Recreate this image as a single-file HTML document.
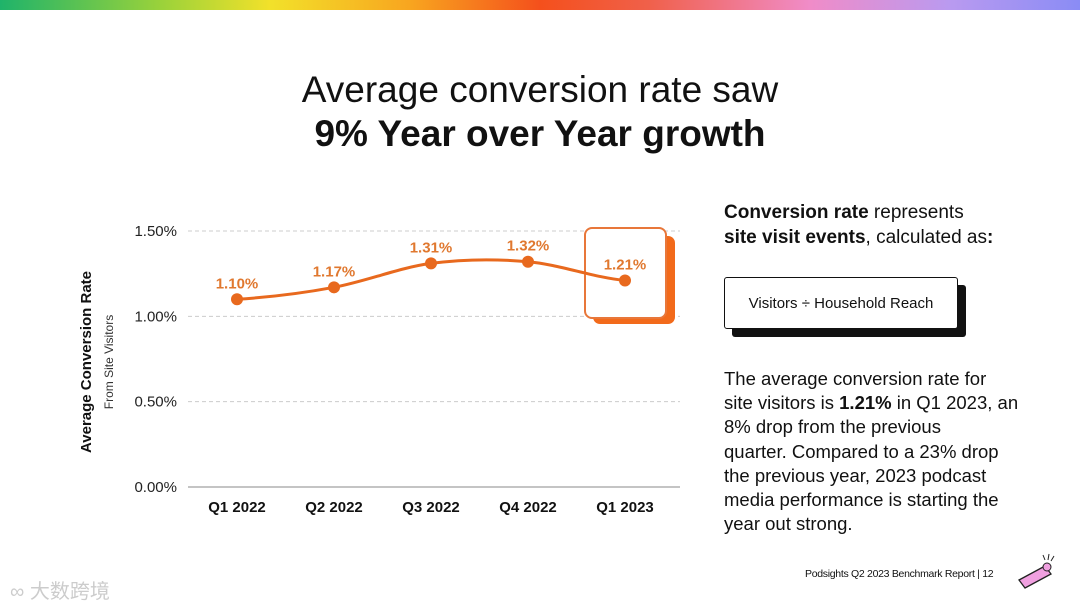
<!DOCTYPE html>
<html><head><meta charset="utf-8"><style>
body{margin:0;width:1080px;height:608px;background:#fff;font-family:"Liberation Sans","Noto Sans CJK SC",sans-serif;position:relative;overflow:hidden;color:#111}
.abs{position:absolute}
</style></head><body>
<div class="abs" style="left:0;top:0;width:1080px;height:10px;background:linear-gradient(90deg,#1fb36a 0%,#9bd23a 15%,#f2e12a 25%,#f8a51f 38%,#f4501c 50%,#f0604a 60%,#f08cc8 75%,#b99af0 88%,#8a8cf5 100%)"></div>
<div class="abs" style="left:0;top:68px;width:1080px;text-align:center;font-size:37px;line-height:44px">Average conversion rate saw<br><b>9% Year over Year growth</b></div>
<svg class="abs" style="left:0;top:0" width="700" height="540">
<g id="g"></g>
</svg>
<div class="abs" style="left:724px;top:200px;font-size:19px;line-height:25px"><b>Conversion rate</b> represents<br><b>site visit events</b>, calculated as<b>:</b></div>
<div class="abs" style="left:732px;top:285px;width:234px;height:52px;background:#111;border-radius:3px"></div>
<div class="abs" style="left:724px;top:277px;width:234px;height:52px;background:#fff;border:1.5px solid #111;border-radius:3px;font-size:15px;line-height:52px;text-align:center;box-sizing:border-box">Visitors ÷ Household Reach</div>
<div class="abs" style="left:724px;top:367px;width:330px;font-size:18.5px;line-height:24.2px;white-space:nowrap">The average conversion rate for<br>site visitors is <b>1.21%</b> in Q1 2023, an<br>8% drop from the previous<br>quarter. Compared to a 23% drop<br>the previous year, 2023 podcast<br>media performance is starting the<br>year out strong.</div>
<div class="abs" style="left:805px;top:568px;font-size:10.5px;letter-spacing:-0.3px">Podsights Q2 2023 Benchmark Report | 12</div>
<div class="abs" style="left:10px;top:575px;font-size:20px;color:#ccc">∞ 大数跨境</div>
<svg class="abs" style="left:1015px;top:552px" width="45" height="40"><path d="M4 28 L30 14 L36 22 L10 36 Z" fill="#f0a0e0" stroke="#222" stroke-width="1.3"/><circle cx="32" cy="15" r="4" fill="#f0a0e0" stroke="#222"/><path d="M34 2 L33 8 M39 4 L36 9 M28 3 L30 8" stroke="#222"/></svg>
<script>
const categories=["Q1 2022","Q2 2022","Q3 2022","Q4 2022","Q1 2023"];
const values=[1.10,1.17,1.31,1.32,1.21];
const ticks=[0,0.5,1.0,1.5];
const tickLabels=["0.00%","0.50%","1.00%","1.50%"];
const NS="http://www.w3.org/2000/svg",g=document.getElementById('g');
const y=v=>487-v*170.67,x=i=>237+i*97;
function mk(t,a,txt){const e=document.createElementNS(NS,t);for(const k in a)e.setAttribute(k,a[k]);if(txt!=null)e.textContent=txt;g.appendChild(e);return e;}
ticks.forEach((t,i)=>{
 const l=mk('line',{x1:188,x2:680,y1:y(t),y2:y(t),stroke:t===0?'#888':'#ccc','stroke-dasharray':t===0?'':'4 3','stroke-width':1});
 
 
 const tx=mk('text',{x:177,y:y(t)+5,'text-anchor':'end','font-size':15,fill:'#222'},tickLabels[i]);
 
 
});
categories.forEach((c,i)=>{
 const t=mk('text',{x:x(i),y:512,'text-anchor':'middle','font-size':15,'font-weight':'bold',fill:'#111'},c);
 
 
});
const n=values.length-1;
const sh=mk('rect',{x:x(n)-32,y:236,width:82,height:88,rx:7,fill:'#f26a1b'});


const hb=mk('rect',{x:x(n)-40,y:228,width:81,height:90,rx:7,fill:'#fff',stroke:'#e8773a','stroke-width':2});


let d=`M${x(0)},${y(values[0])}`;
for(let i=1;i<values.length;i++){const x0=x(i-1),x1=x(i),y0=y(values[i-1]),y1=y(values[i]);
 const p=values[i-2]!==undefined?y(values[i-2]):y0,q=values[i+1]!==undefined?y(values[i+1]):y1;
 d+=` C${x0+32},${y0+(y1-p)/6} ${x1-32},${y1-(q-y0)/6} ${x1},${y1}`;}
const pl=mk('path',{d:d,fill:'none',stroke:'#e8691e','stroke-width':3});


values.forEach((v,i)=>{
 const c=mk('circle',{cx:x(i),cy:y(v),r:6,fill:'#e8691e'});
 
 
 const t=mk('text',{x:x(i),y:y(v)-11,'text-anchor':'middle','font-size':15,'font-weight':'bold',fill:'#e0782f'},v.toFixed(2)+'%');
 
 
});
const yt=mk('text',{x:0,y:0,transform:'translate(91,362) rotate(-90)','text-anchor':'middle','font-size':15,'font-weight':'bold',fill:'#111'},'Average Conversion Rate');


const ys=mk('text',{x:0,y:0,transform:'translate(113,362) rotate(-90)','text-anchor':'middle','font-size':12,fill:'#333'},'From Site Visitors');


</script>
</body></html>
